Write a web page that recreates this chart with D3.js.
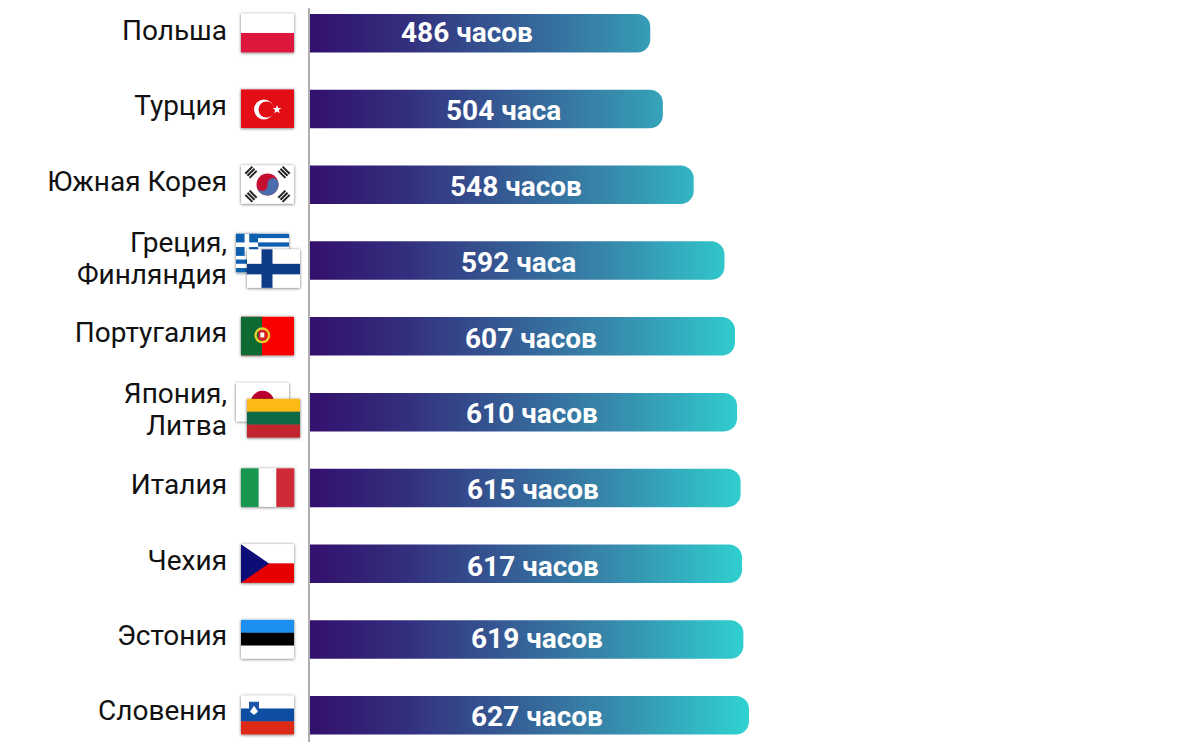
<!DOCTYPE html>
<html>
<head>
<meta charset="utf-8">
<script src="https://cdn.jsdelivr.net/npm/d3@7"></script>
<style>
    html, body { margin: 0; padding: 0; background: #fff; overflow: hidden; }
    text { font-family: Roboto, sans-serif; }
</style>
</head>
<body>
<script>
const countries = ['Польша', 'Турция', 'Южная Корея', 'Греция, Финляндия', 'Португалия', 'Япония, Литва', 'Италия', 'Чехия', 'Эстония', 'Словения'];
const hours = [486, 504, 548, 592, 607, 610, 615, 617, 619, 627];
const hourWords = ['часов', 'часа', 'часов', 'часа', 'часов', 'часов', 'часов', 'часов', 'часов', 'часов'];
const flags = [['pl'], ['tr'], ['kr'], ['gr', 'fi'], ['pt'], ['jp', 'lt'], ['it'], ['cz'], ['ee'], ['si']];

//the value labels are not centred in the bars, they sit by hand in the original
const labelLeft = [401, 446, 450, 461, 465, 466, 467, 467, 471, 471];
const labelDy = [-1, 1, 1, 1, 2, 1, 1, 2, -2, 1];
const nameDy = [-2, -3, -3, 0, -3, 0, -3, -3, -3, -4];
//overlapping flags in the two-country rows
const stackedFlags = { gr: [236, -7.5], fi: [247, 8], jp: [236, -10], lt: [247, 6] };

const width = 1200;
const height = 747;
const flagW = 53;
const flagH = 38.5;

const svg = d3.select('body').append('svg')
    .attr('width', width)
    .attr('height', height);

const defs = svg.append('defs');

//one gradient for all bars, so shorter bars stop before the teal end
const x = d3.scaleLinear().domain([0, 627]).range([310, 749]);
const y = d3.scaleBand().domain(countries).range([14, 734.5]).paddingInner(0.492).paddingOuter(0);

const grad = defs.append('linearGradient')
    .attr('id', 'barGrad')
    .attr('gradientUnits', 'userSpaceOnUse')
    .attr('x1', x(0)).attr('x2', x(627))
    .attr('y1', 0).attr('y2', 0);
grad.append('stop').attr('offset', '0%').attr('stop-color', '#33106d');
grad.append('stop').attr('offset', '22%').attr('stop-color', '#332f7e');
grad.append('stop').attr('offset', '70%').attr('stop-color', '#378cad');
grad.append('stop').attr('offset', '100%').attr('stop-color', '#2fd3d1');

const shadow = defs.append('filter')
    .attr('id', 'flagShadow')
    .attr('x', '-15%').attr('y', '-15%')
    .attr('width', '130%').attr('height', '130%');
shadow.append('feDropShadow')
    .attr('dx', 0).attr('dy', 0.5)
    .attr('stdDeviation', 1.7)
    .attr('flood-color', '#000')
    .attr('flood-opacity', 0.6);

//bars with only the right corners rounded
function barPath(d) {
    const x0 = x(0), x1 = x(d.hours), y0 = y(d.name), bh = y.bandwidth(), r = 13;
    const p = d3.path();
    p.moveTo(x0, y0);
    p.lineTo(x1 - r, y0);
    p.arcTo(x1, y0, x1, y0 + r, r);
    p.lineTo(x1, y0 + bh - r);
    p.arcTo(x1, y0 + bh, x1 - r, y0 + bh, r);
    p.lineTo(x0, y0 + bh);
    p.closePath();
    return p.toString();
}

const rows = countries.map((name, i) => ({
    name, i,
    hours: hours[i],
    word: hourWords[i],
    flags: flags[i]
}));

svg.append('g').selectAll('path')
    .data(rows)
    .join('path')
    .attr('d', barPath)
    .attr('fill', 'url(#barGrad)');

svg.append('line')
    .attr('x1', 309).attr('x2', 309)
    .attr('y1', 8).attr('y2', 742)
    .attr('stroke', '#aeaeae')
    .attr('stroke-width', 2);

svg.append('g').selectAll('text')
    .data(rows)
    .join('text')
    .attr('x', d => labelLeft[d.i])
    .attr('y', d => y(d.name) + y.bandwidth() / 2 + labelDy[d.i])
    .attr('dy', '0.36em')
    .attr('fill', '#fff')
    .attr('font-size', 28)
    .attr('font-weight', 700)
    .text(d => `${d.hours} ${d.word}`);

//country names, two countries in a row go on two lines
const names = svg.append('g').selectAll('text')
    .data(rows)
    .join('text')
    .attr('text-anchor', 'end')
    .attr('fill', '#111')
    .attr('font-size', 28);

names.each(function (d) {
    const parts = d.name.split(' ');
    const twoLines = d.name.includes(',');
    const cy = y(d.name) + y.bandwidth() / 2 + nameDy[d.i];
    if (twoLines) {
        d3.select(this).append('tspan').attr('x', 227).attr('y', cy - 9).text(parts[0]);
        d3.select(this).append('tspan').attr('x', 227).attr('y', cy + 23).text(parts[1]);
    } else {
        d3.select(this).append('tspan').attr('x', 227).attr('y', cy + 9).text(d.name);
    }
});

function stripes(g, colors, vertical) {
    colors.forEach((c, i) => {
        const rect = g.append('rect').attr('fill', c);
        if (vertical) {
            rect.attr('x', flagW * i / colors.length).attr('y', 0)
                .attr('width', flagW / colors.length + 0.2).attr('height', flagH);
        } else {
            rect.attr('x', 0).attr('y', flagH * i / colors.length)
                .attr('width', flagW).attr('height', flagH / colors.length + 0.2);
        }
    });
}

function star(g, cx, cy, r, fill) {
    const pts = d3.range(10).map(k => {
        const a = k * Math.PI / 5 - Math.PI / 2;
        const rr = k % 2 ? r * 0.42 : r;
        return [cx + rr * Math.cos(a), cy + rr * Math.sin(a)];
    });
    g.append('polygon').attr('points', pts.join(' ')).attr('fill', fill);
}

//small drawings of the flags, each in a 53x38.5 box
const drawFlag = {
    pl(g) { stripes(g, ['#ffffff', '#dc143c']); },
    it(g) { stripes(g, ['#12964f', '#ffffff', '#ce2b37'], true); },
    ee(g) { stripes(g, ['#1b8ff0', '#000000', '#ffffff']); },
    lt(g) { stripes(g, ['#fdb913', '#0f6b45', '#c1272d']); },
    tr(g) {
        g.append('rect').attr('width', flagW).attr('height', flagH).attr('fill', '#e30a17');
        g.append('circle').attr('cx', 23).attr('cy', 20).attr('r', 10).attr('fill', '#fff');
        g.append('circle').attr('cx', 25.5).attr('cy', 20).attr('r', 8).attr('fill', '#e30a17');
        star(g, 36, 20, 4.6, '#fff');
    },
    kr(g) {
        g.append('rect').attr('width', flagW).attr('height', flagH).attr('fill', '#fff');
        const cx = flagW / 2, cy = flagH / 2, r = 11;
        g.append('circle').attr('cx', cx).attr('cy', cy).attr('r', r).attr('fill', '#c60c30');
        const yin = d3.path();
        yin.moveTo(cx - r, cy);
        yin.arc(cx - r / 2, cy, r / 2, Math.PI, 0, true);
        yin.arc(cx + r / 2, cy, r / 2, Math.PI, 2 * Math.PI, false);
        yin.arc(cx, cy, r, 0, Math.PI, false);
        g.append('path').attr('d', yin.toString())
            .attr('fill', '#4a6cab')
            .attr('transform', `rotate(-10 ${cx} ${cy})`);
        //the four trigrams
        [[10, 7, 45], [43, 7, -45], [10, 31, -45], [43, 31, 45]].forEach(t => {
            const tg = g.append('g').attr('transform', `translate(${t[0]},${t[1]}) rotate(${t[2]})`);
            [-3, 0, 3].forEach(o => {
                tg.append('rect').attr('x', o - 1).attr('y', -5).attr('width', 2).attr('height', 10).attr('fill', '#222');
            });
        });
    },
    gr(g) {
        g.append('rect').attr('width', flagW).attr('height', flagH).attr('fill', '#fff');
        d3.range(0, 9, 2).forEach(k => {
            g.append('rect').attr('x', 0).attr('y', k * flagH / 9)
                .attr('width', flagW).attr('height', flagH / 9).attr('fill', '#1160b0');
        });
        g.append('rect').attr('width', 22).attr('height', 22).attr('fill', '#1160b0');
        g.append('rect').attr('x', 8.6).attr('width', 4.6).attr('height', 22).attr('fill', '#fff');
        g.append('rect').attr('y', 8.6).attr('width', 22).attr('height', 4.6).attr('fill', '#fff');
    },
    fi(g) {
        g.append('rect').attr('width', flagW).attr('height', flagH).attr('fill', '#fff');
        g.append('rect').attr('x', 14.5).attr('width', 11).attr('height', flagH).attr('fill', '#0a3a85');
        g.append('rect').attr('y', 14.5).attr('width', flagW).attr('height', 10.5).attr('fill', '#0a3a85');
    },
    pt(g) {
        g.append('rect').attr('width', flagW).attr('height', flagH).attr('fill', '#fa0000');
        g.append('rect').attr('width', 21).attr('height', flagH).attr('fill', '#0b6b33');
        g.append('circle').attr('cx', 21.3).attr('cy', 18.5).attr('r', 6.8)
            .attr('fill', 'none').attr('stroke', '#e8d030').attr('stroke-width', 2.4);
        g.append('rect').attr('x', 17.3).attr('y', 13.5).attr('width', 8).attr('height', 10).attr('rx', 2.5)
            .attr('fill', '#d8202a');
        g.append('rect').attr('x', 19.3).attr('y', 15.8).attr('width', 4).attr('height', 5)
            .attr('rx', 1).attr('fill', '#fff');
    },
    jp(g) {
        g.append('rect').attr('width', flagW).attr('height', flagH).attr('fill', '#fff');
        g.append('circle').attr('cx', flagW / 2).attr('cy', flagH / 2).attr('r', 11.5).attr('fill', '#bc002d');
    },
    cz(g) {
        stripes(g, ['#ffffff', '#e60000']);
        g.append('polygon').attr('points', `0,0 28,${flagH / 2} 0,${flagH}`).attr('fill', '#0a0a78');
    },
    si(g) {
        stripes(g, ['#ffffff', '#0b4ea2', '#dd2a15']);
        g.append('path').attr('d', 'M8,6 L18,6 L18,14 Q17,18.5 13,20 Q9,18.5 8,14 Z').attr('fill', '#1a55a8');
        g.append('polygon').attr('points', '9,16 13,10 17,16 13,19').attr('fill', '#fff');
    }
};

const flagLayer = svg.append('g');
rows.forEach(d => {
    const top = y(d.name);
    d.flags.forEach(code => {
        const stacked = stackedFlags[code];
        const fx = stacked ? stacked[0] : 241;
        const fy = stacked ? top + stacked[1] : top - 0.3;
        const g = flagLayer.append('g')
            .attr('transform', `translate(${fx},${fy})`)
            .attr('filter', 'url(#flagShadow)');
        drawFlag[code](g);
    });
});
</script>
</body>
</html>
